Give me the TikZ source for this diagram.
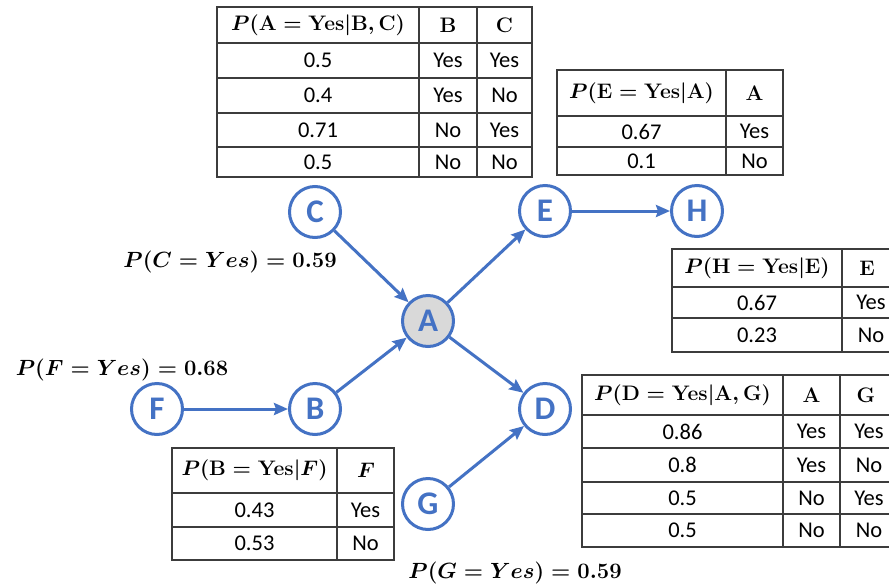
\RequirePackage{fix-cm}
\documentclass[tikz,border=0pt]{standalone}
\usepackage{amsmath}
\usepackage{fontspec}
\setmainfont{Carlito}
\usetikzlibrary{arrows.meta}
\definecolor{netblue}{HTML}{4472C4}
\definecolor{gridline}{HTML}{3C3C3C}
\definecolor{shade}{HTML}{D9D9D9}
\tikzset{
  var/.style={circle, draw=netblue, line width=3pt, fill=white, minimum size=51pt,
    inner sep=0pt, text=netblue, font=\fontsize{33}{33}\selectfont\bfseries},
  query/.style={var, fill=shade},
  link/.style={draw=netblue, line width=3pt,
    -{Stealth[length=14pt, width=12pt, inset=2pt]}},
  grid/.style={draw=gridline, line width=1.3pt},
  cell/.style={inner sep=0pt, font=\fontsize{22.5}{22.5}\selectfont},
  head/.style={inner sep=0pt, font=\fontsize{21}{21}\selectfont\boldmath},
  prior/.style={inner sep=0pt, font=\fontsize{22}{22}\selectfont\boldmath},
}
\begin{document}
\begin{tikzpicture}[x=1pt, y=-1pt]
\clip (0,0) rectangle (889,587);
\fill[white] (0,0) rectangle (889,587);

% ---- conditional table for A ----
\draw[grid] (217,7) rectangle (532,177);
\foreach \yy in {43,78,113,147} \draw[grid] (217,\yy) -- (532,\yy);
\foreach \xx in {419,477} \draw[grid] (\xx,7) -- (\xx,177);
\node[head] (ta-h1) at (318,25) {$P(\mathbf{A}=\mathbf{Yes}|\mathbf{B},\mathbf{C})$};
\node[head] (ta-h2) at (448,25) {$\mathbf{B}$};
\node[head] (ta-h3) at (504.5,25) {$\mathbf{C}$};
\foreach \p/\b/\c/\yy [count=\i] in {0.5/Yes/Yes/60.5, 0.4/Yes/No/95.5, 0.71/No/Yes/130, 0.5/No/No/162} {
  \node[cell] (ta-\i-1) at (318,\yy) {\p};
  \node[cell] (ta-\i-2) at (448,\yy) {\b};
  \node[cell] (ta-\i-3) at (504.5,\yy) {\c};
}

% ---- conditional table for E ----
\draw[grid] (557,70) rectangle (783,175);
\foreach \yy in {116,147} \draw[grid] (557,\yy) -- (783,\yy);
\draw[grid] (726,70) -- (726,175);
\node[head] (te-h1) at (641.5,93) {$P(\mathbf{E}=\mathbf{Yes}|\mathbf{A})$};
\node[head] (te-h2) at (754.5,93) {$\mathbf{A}$};
\foreach \p/\a/\yy [count=\i] in {0.67/Yes/131.5, 0.1/No/161} {
  \node[cell] (te-\i-1) at (641.5,\yy) {\p};
  \node[cell] (te-\i-2) at (754.5,\yy) {\a};
}

% ---- conditional table for H ----
\draw[grid] (672,249) rectangle (905,352);
\foreach \yy in {287,318} \draw[grid] (672,\yy) -- (905,\yy);
\draw[grid] (842,249) -- (842,352);
\node[head] (th-h1) at (757,268) {$P(\mathbf{H}=\mathbf{Yes}|\mathbf{E})$};
\node[head] (th-h2) at (867,268) {$\mathbf{E}$};
\foreach \p/\e/\yy [count=\i] in {0.67/Yes/302.5, 0.23/No/335} {
  \node[cell] (th-\i-1) at (757,\yy) {\p};
  \node[cell] (th-\i-2) at (871,\yy) {\e};
}

% ---- conditional table for D ----
\draw[grid] (582,375) rectangle (905,547);
\foreach \yy in {415,448,482,514} \draw[grid] (582,\yy) -- (905,\yy);
\foreach \xx in {783,840} \draw[grid] (\xx,375) -- (\xx,547);
\node[head] (td-h1) at (682.5,395) {$P(\mathbf{D}=\mathbf{Yes}|\mathbf{A},\mathbf{G})$};
\node[head] (td-h2) at (811.5,395) {$\mathbf{A}$};
\node[head] (td-h3) at (866,395) {$\mathbf{G}$};
\foreach \p/\a/\g/\yy [count=\i] in {0.86/Yes/Yes/431.5, 0.8/Yes/No/465, 0.5/No/Yes/498, 0.5/No/No/530.5} {
  \node[cell] (td-\i-1) at (682.5,\yy) {\p};
  \node[cell] (td-\i-2) at (811.5,\yy) {\a};
  \node[cell] (td-\i-3) at (869,\yy) {\g};
}

% ---- conditional table for B ----
\draw[grid] (172,448) rectangle (394,560);
\foreach \yy in {493,527} \draw[grid] (172,\yy) -- (394,\yy);
\draw[grid] (337,448) -- (337,560);
\node[head] (tb-h1) at (254.5,470) {$P(\mathbf{B}=\mathbf{Yes}|F)$};
\node[head] (tb-h2) at (366,470) {$F$};
\foreach \p/\f/\yy [count=\i] in {0.43/Yes/510, 0.53/No/543.5} {
  \node[cell] (tb-\i-1) at (254.5,\yy) {\p};
  \node[cell] (tb-\i-2) at (365.5,\yy) {\f};
}

% ---- network variables ----
\node[var]   (C) at (315,212) {C};
\node[query] (A) at (428,321) {A};
\node[var]   (F) at (157,409) {F};
\node[var]   (B) at (315,409) {B};
\node[var]   (E) at (545,211) {E};
\node[var]   (H) at (697,211) {H};
\node[var]   (D) at (545,409) {D};
\node[var]   (G) at (428,504) {G};

% ---- dependencies ----
\draw[link] (C) -- (A);
\draw[link] (F) -- (B);
\draw[link] (B) -- (A);
\draw[link] (A) -- (E);
\draw[link] (A) -- (D);
\draw[link] (E) -- (H);
\draw[link] (G) -- (D);

% ---- priors ----
\node[prior] (pc) at (230,262) {$P(C=Yes)=0.59$};
\node[prior] (pf) at (122,370) {$P(F=Yes)=0.68$};
\node[prior] (pg) at (515,573) {$P(G=Yes)=0.59$};
\end{tikzpicture}
\end{document}
